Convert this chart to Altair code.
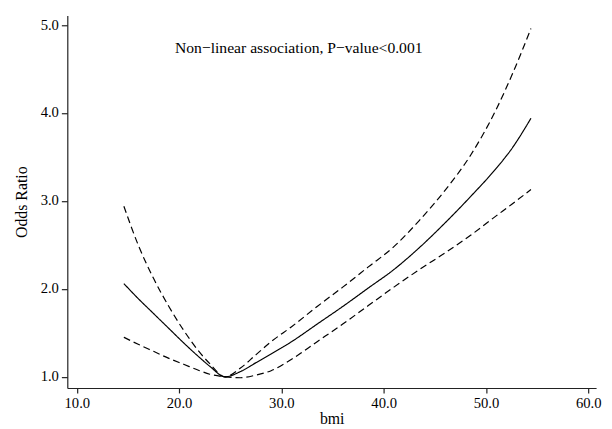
import altair as alt
import pandas as pd

bmi = [14.6, 16, 17.5, 19, 20.5, 22, 23, 24.5, 26, 27.5, 29, 31, 33.5, 36, 38.5, 41, 43.5, 46, 48.5, 51, 52.5, 54.4]
or_est = [2.06, 1.89, 1.72, 1.55, 1.38, 1.22, 1.12, 1.00, 1.06, 1.16, 1.26, 1.40, 1.60, 1.80, 2.01, 2.22, 2.47, 2.75, 3.05, 3.37, 3.59, 3.94]
or_upper = [2.94, 2.50, 2.12, 1.80, 1.52, 1.28, 1.15, 1.00, 1.10, 1.25, 1.40, 1.57, 1.80, 2.02, 2.25, 2.48, 2.78, 3.12, 3.52, 4.04, 4.42, 4.96]
or_lower = [1.45, 1.37, 1.29, 1.21, 1.14, 1.07, 1.03, 1.00, 0.99, 1.02, 1.07, 1.20, 1.40, 1.60, 1.81, 2.02, 2.22, 2.41, 2.61, 2.83, 2.96, 3.13]

x_ticks = [10, 20, 30, 40, 50, 60]
y_ticks = [1, 2, 3, 4, 5]
annotation = "Non\u2212linear association, P\u2212value<0.001"

rows = []
for name, vals in [("OR", or_est), ("Upper", or_upper), ("Lower", or_lower)]:
    for b, v in zip(bmi, vals):
        rows.append({"bmi": b, "OR": v, "series": name})
df = pd.DataFrame(rows)

FONT = "'Liberation Serif', 'Times New Roman', Times, serif"

xscale = alt.Scale(domain=[9.07, 60.77], nice=False, zero=False)
yscale = alt.Scale(domain=[0.873, 5.11], nice=False, zero=False)

lines = alt.Chart(df).mark_line(color="black", strokeWidth=1.2, interpolate="monotone").encode(
    x=alt.X("bmi:Q", scale=xscale, title="bmi",
            axis=alt.Axis(values=x_ticks, format=".1f", grid=False)),
    y=alt.Y("OR:Q", scale=yscale, title="Odds Ratio",
            axis=alt.Axis(values=y_ticks, format=".1f", grid=False)),
    strokeDash=alt.StrokeDash("series:N",
                              scale=alt.Scale(domain=["OR", "Upper", "Lower"],
                                              range=[[1, 0], [7, 4], [7, 4]]),
                              legend=None),
    detail="series:N",
)

text = alt.Chart(pd.DataFrame({"bmi": [31.7], "OR": [4.74], "label": [annotation]})).mark_text(
    font=FONT, fontSize=15.8, color="black", align="center", baseline="middle"
).encode(x=alt.X("bmi:Q", scale=xscale), y=alt.Y("OR:Q", scale=yscale), text="label:N")

chart = alt.layer(lines, text).properties(
    width=535, height=377,
    autosize=alt.AutoSizeParams(type="none"),
    padding={"left": 60, "top": 5, "right": 8, "bottom": 39},
).configure_view(stroke=None).configure_axis(
    labelFont=FONT, titleFont=FONT, labelFontSize=14.8, titleFontSize=16,
    titleFontWeight="normal", labelColor="black", titleColor="black",
    domainColor="#222", tickColor="#222", domainWidth=1.2, tickWidth=1.2,
    tickSize=6, labelPadding=3,
).configure_axisY(titlePadding=11).configure_axisX(titlePadding=0, tickSize=5, labelPadding=3)

chart.save("out.html", embed_options={"renderer": "svg", "actions": False})
